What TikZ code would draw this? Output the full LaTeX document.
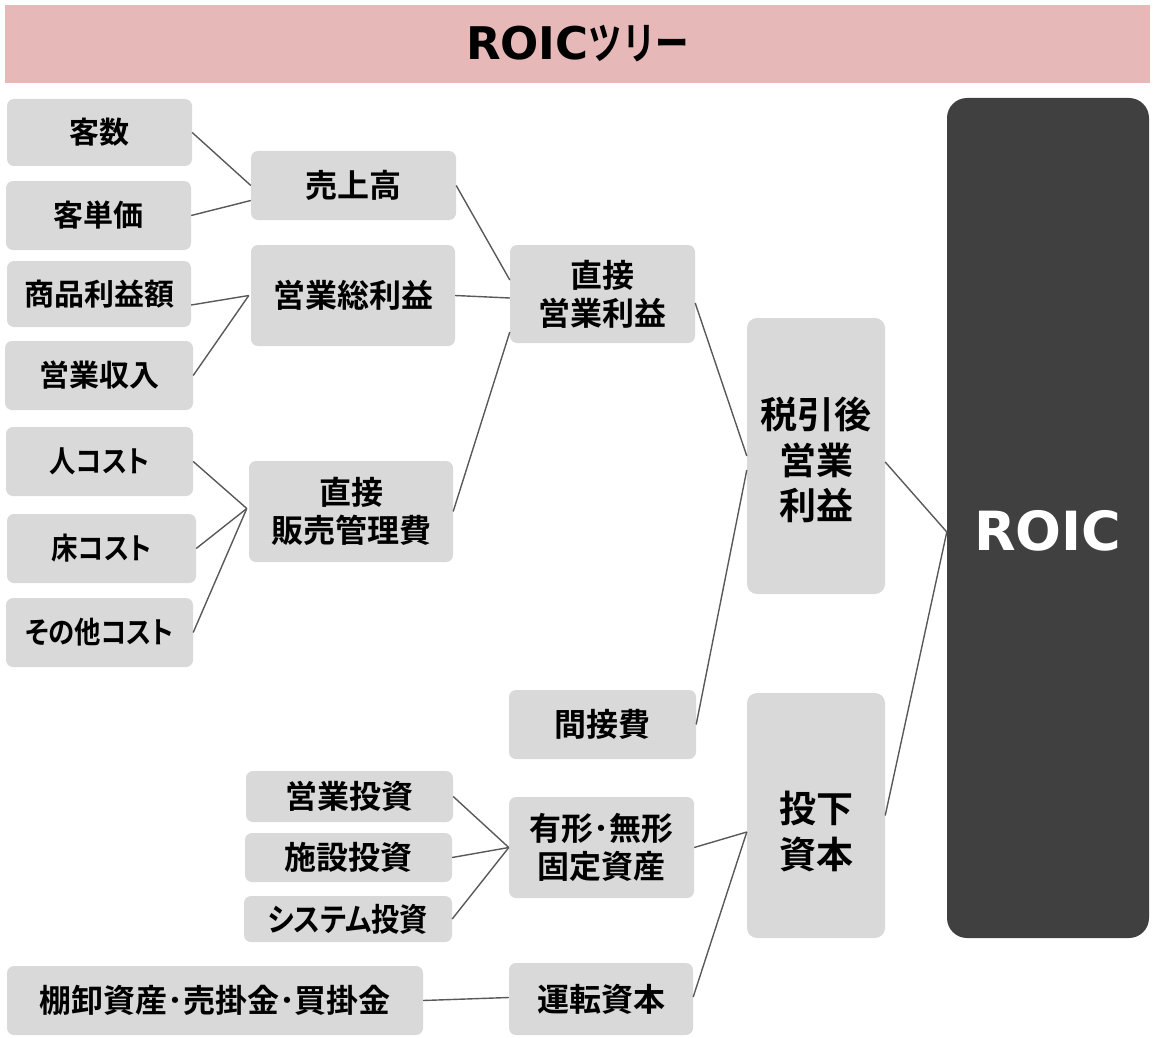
\documentclass[tikz,border=0pt]{standalone}
\usepackage{fontspec}
\setmainfont{Noto Sans CJK JP}[BoldFont={Noto Sans CJK JP Bold}]
\newfontfamily\paltfont{Noto Sans CJK JP}[BoldFont={Noto Sans CJK JP Bold}, RawFeature=+palt, FakeStretch=0.88]
\newfontfamily\narrowfont{Noto Sans CJK JP}[BoldFont={Noto Sans CJK JP Bold}, FakeStretch=0.76]
\newfontfamily\latinbold{DejaVu Sans}[BoldFont={DejaVu Sans Bold}]
\definecolor{boxgray}{HTML}{D9D9D9}
\definecolor{linegray}{HTML}{595959}
\definecolor{darkbox}{HTML}{404040}
\definecolor{titlepink}{HTML}{E6B8B7}
\tikzset{
  cell/.style={rounded corners=7pt, fill=boxgray, draw=none, inner sep=0pt, align=center, text=black,
    font=\bfseries\fontsize{32}{38}\selectfont},
  leftcell/.style={cell, font=\bfseries\fontsize{30}{36}\selectfont},
  bigcell/.style={cell, rounded corners=10pt},
  bigtext/.style={inner sep=0pt, align=center, text=black, font=\bfseries\fontsize{37}{45.5}\selectfont},
  conn/.style={draw=linegray, line width=1.4pt},
}
\begin{document}
\begin{tikzpicture}[x=1pt,y=-1pt]
\useasboundingbox (0,0) rectangle (1154,1038);
% title
\node[fill=titlepink, minimum width=1145pt, minimum height=78pt, inner sep=0pt] (title) at (577.5,44)
  {{\latinbold\bfseries\fontsize{45}{50}\selectfont ROIC}{\narrowfont\bfseries\fontsize{44}{44}\selectfont ツリー}};
% left column
\node[leftcell, minimum width=185pt, minimum height=67pt] (kyakusu) at (99.5,132.5) {客数};
\node[leftcell, minimum width=185pt, minimum height=69pt] (tanka) at (98.5,215.5) {客単価};
\node[leftcell, minimum width=184pt, minimum height=66pt] (shohin) at (99,294) {商品利益額};
\node[leftcell, minimum width=188pt, minimum height=69pt] (eigyoshu) at (99,375.5) {営業収入};
\node[leftcell, minimum width=187pt, minimum height=69pt] (hito) at (99.5,461.5) {\paltfont 人コスト};
\node[leftcell, minimum width=189pt, minimum height=69pt] (yuka) at (101.5,548.5) {\paltfont 床コスト};
\node[leftcell, minimum width=187pt, minimum height=69pt] (sonota) at (99.5,632.5) {\paltfont その他コスト};
% second column
\node[cell, minimum width=205pt, minimum height=69pt] (uriage) at (353.5,185.5) {売上高};
\node[cell, minimum width=204pt, minimum height=101pt] (soueki) at (353,295.5) {営業総利益};
\node[cell, minimum width=204pt, minimum height=101pt] (hankan) at (351,511.5) {直接\\販売管理費};
\node[cell, minimum width=207pt, minimum height=51pt] (eitoushi) at (349.5,796.5) {営業投資};
\node[cell, minimum width=207pt, minimum height=49pt] (shisetsu) at (348.5,857.5) {施設投資};
\node[cell, minimum width=208pt, minimum height=46pt] (system) at (348,919) {\paltfont システム投資};
\node[cell, minimum width=416pt, minimum height=69pt] (tanaoroshi) at (215,1000.5) {棚卸資産･売掛金･買掛金};
% third column
\node[cell, minimum width=185pt, minimum height=98pt] (chokueki) at (602.5,294) {直接\\営業利益};
\node[cell, minimum width=187pt, minimum height=69pt] (kansetsu) at (602.5,724.5) {間接費};
\node[cell, minimum width=185pt, minimum height=101pt] (yukei) at (601.5,847.5) {有形･無形\\固定資産};
\node[cell, minimum width=184pt, minimum height=72pt] (unten) at (601,999) {運転資本};
% fourth column
\node[bigcell, minimum width=138pt, minimum height=276pt] (zeibiki) at (816,456) {};
\node[bigtext] (zeibikitext) at ([yshift=-4pt]zeibiki.center) {税引後\\営業\\利益};
\node[bigcell, minimum width=138pt, minimum height=245pt] (toka) at (816,815.5) {};
\node[bigtext] (tokatext) at ([yshift=-16pt]toka.center) {投下\\資本};
% ROIC
\node[fill=darkbox, rounded corners=20pt, minimum width=202pt, minimum height=840pt, inner sep=0pt] (roic) at (1048,518) {};
\node[text=white, inner sep=0pt, font=\latinbold\bfseries\fontsize{54}{60}\selectfont] (roictext) at ([yshift=-13pt]roic.center) {ROIC};
% connectors
\draw[conn] (kyakusu.east) -- (uriage.west);
\draw[conn] (tanka.east) -- ([yshift=-15pt]uriage.west);
\draw[conn] ([yshift=-11pt]shohin.east) -- ([xshift=-2pt]soueki.west);
\draw[conn] (eigyoshu.east) -- ([xshift=-2pt]soueki.west);
\draw[conn] (hito.east) -- ([xshift=-2pt,yshift=3pt]hankan.west);
\draw[conn] (yuka.east) -- ([xshift=-2pt,yshift=3pt]hankan.west);
\draw[conn] (sonota.east) -- ([xshift=-2pt,yshift=3pt]hankan.west);
\draw[conn] (uriage.east) -- ([yshift=14pt]chokueki.west);
\draw[conn] (soueki.east) -- ([yshift=-4pt]chokueki.west);
\draw[conn] (hankan.east) -- ([yshift=-38pt]chokueki.west);
\draw[conn] ([yshift=-9pt]chokueki.east) -- (zeibiki.west);
\draw[conn] (kansetsu.east) -- ([yshift=-14pt]zeibiki.west);
\draw[conn] ([yshift=-6pt]zeibiki.east) -- ([yshift=-14pt]roic.west);
\draw[conn] (toka.east) -- ([yshift=-14pt]roic.west);
\draw[conn] (eitoushi.east) -- (yukei.west);
\draw[conn] (shisetsu.east) -- (yukei.west);
\draw[conn] (system.east) -- (yukei.west);
\draw[conn] (yukei.east) -- ([yshift=-16.5pt]toka.west);
\draw[conn] ([yshift=2pt]unten.east) -- ([yshift=-16.5pt]toka.west);
\draw[conn] (tanaoroshi.east) -- ([yshift=1.5pt]unten.west);
\end{tikzpicture}
\end{document}
